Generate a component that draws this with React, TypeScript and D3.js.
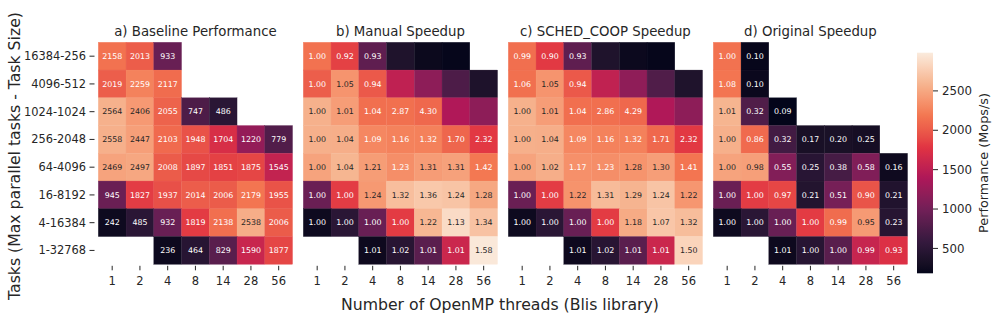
import React from "react";
import * as d3 from "d3";

const rowLabels = ["16384-256", "4096-512", "1024-1024", "256-2048", "64-4096", "16-8192", "4-16384", "1-32768"];
const threadLabels = ["1", "2", "4", "8", "14", "28", "56"];

const baseline: (number | null)[][] = [
  [2158, 2013, 933, null, null, null, null],
  [2019, 2259, 2117, null, null, null, null],
  [2564, 2406, 2055, 747, 486, null, null],
  [2558, 2447, 2103, 1948, 1704, 1220, 779],
  [2469, 2497, 2008, 1897, 1851, 1875, 1545],
  [945, 1827, 1937, 2014, 2006, 2179, 1955],
  [242, 485, 932, 1819, 2138, 2538, 2006],
  [null, null, 236, 464, 829, 1590, 1877],
];

const manualSpeedup: (number | null)[][] = [
  [1.0, 0.92, 0.93, null, null, null, null],
  [1.0, 1.05, 0.94, null, null, null, null],
  [1.0, 1.01, 1.04, 2.87, 4.3, null, null],
  [1.0, 1.04, 1.09, 1.16, 1.32, 1.7, 2.32],
  [1.0, 1.04, 1.21, 1.23, 1.31, 1.31, 1.42],
  [1.0, 1.0, 1.24, 1.32, 1.36, 1.24, 1.28],
  [1.0, 1.0, 1.0, 1.0, 1.22, 1.13, 1.34],
  [null, null, 1.01, 1.02, 1.01, 1.01, 1.58],
];

// performance of runs where no baseline exists (coloured, not annotated)
const manualOnlyPerf: (number | null)[][] = [
  [null, null, null, 390, 227, 199, null],
  [null, null, null, 1520, 1178, 751, 384],
  [null, null, null, null, null, 1404, 1178],
  [null, null, null, null, null, null, null],
  [null, null, null, null, null, null, null],
  [null, null, null, null, null, null, null],
  [null, null, null, null, null, null, null],
  [null, null, null, null, null, null, null],
];

const schedSpeedup: (number | null)[][] = [
  [0.99, 0.9, 0.93, null, null, null, null],
  [1.06, 1.05, 0.94, null, null, null, null],
  [1.0, 1.01, 1.04, 2.86, 4.29, null, null],
  [1.0, 1.04, 1.09, 1.16, 1.32, 1.71, 2.32],
  [1.0, 1.02, 1.17, 1.23, 1.28, 1.3, 1.41],
  [1.0, 1.0, 1.22, 1.31, 1.29, 1.24, 1.22],
  [1.0, 1.0, 1.0, 1.0, 1.18, 1.07, 1.32],
  [null, null, 1.01, 1.02, 1.01, 1.01, 1.5],
];

const schedOnlyPerf: (number | null)[][] = [
  [null, null, null, 395, 230, 199, null],
  [null, null, null, 1530, 1190, 770, 390],
  [null, null, null, null, null, 1404, 1178],
  [null, null, null, null, null, null, null],
  [null, null, null, null, null, null, null],
  [null, null, null, null, null, null, null],
  [null, null, null, null, null, null, null],
  [null, null, null, null, null, null, null],
];

const originalSpeedup: (number | null)[][] = [
  [1.0, 0.1, null, null, null, null, null],
  [1.08, 0.1, null, null, null, null, null],
  [1.01, 0.32, 0.09, null, null, null, null],
  [1.0, 0.86, 0.32, 0.17, 0.2, 0.25, null],
  [1.0, 0.98, 0.55, 0.25, 0.38, 0.58, 0.16],
  [1.0, 1.0, 0.97, 0.21, 0.51, 0.9, 0.21],
  [1.0, 1.0, 1.0, 1.0, 0.99, 0.95, 0.23],
  [null, null, 1.01, 1.0, 1.0, 0.99, 0.93],
];

const panelTitles = ["a) Baseline Performance", "b) Manual Speedup", "c) SCHED_COOP Speedup", "d) Original Speedup"];
const colorbarTicks = [500, 1000, 1500, 2000, 2500];

const VMIN = 184;
const VMAX = 2985;

const rocketStops = ["#03051a", "#35193e", "#701f57", "#ad1759", "#e13342", "#f37651", "#f6b48f", "#faebdd"];
const rocket = d3.piecewise(d3.interpolateLab, rocketStops);
const color = d3.scaleSequential(rocket).domain([VMIN, VMAX]).clamp(true);

function luminance(c: string) {
  const r = d3.rgb(c);
  const f = (v: number) => {
    const s = v / 255;
    return s <= 0.03928 ? s / 12.92 : Math.pow((s + 0.055) / 1.055, 2.4);
  };
  return 0.2126 * f(r.r) + 0.7152 * f(r.g) + 0.0722 * f(r.b);
}

type Cell = { r: number; c: number; perf: number; label: string | null };

function buildCells(kind: number): Cell[] {
  const out: Cell[] = [];
  rowLabels.forEach((_, r) => {
    threadLabels.forEach((_, c) => {
      const b = baseline[r][c];
      if (kind === 0) {
        if (b != null) out.push({ r, c, perf: b, label: String(b) });
        return;
      }
      const sp = kind === 1 ? manualSpeedup : kind === 2 ? schedSpeedup : originalSpeedup;
      const only = kind === 1 ? manualOnlyPerf : kind === 2 ? schedOnlyPerf : null;
      const s = sp[r][c];
      if (s != null && b != null) {
        out.push({ r, c, perf: s * b, label: s.toFixed(2) });
      } else if (only && only[r][c] != null) {
        out.push({ r, c, perf: only[r][c] as number, label: null });
      }
    });
  });
  return out;
}

const W = 997;
const H = 321;
const TOP = 42.3;
const CELL = 27.75;
const PANEL_W = CELL * 7;
const PANEL_H = CELL * 8;
const LEFT0 = 98.3;
const STEP = 205;
const FONT = "DejaVu Sans, sans-serif";
const TXT = "#262626";

const CB_X = 917;
const CB_W = 16;
const CB_TOP = 52.7;
const CB_BOT = 273.3;

export default function App() {
  const y = d3.scaleBand<string>().domain(rowLabels).range([TOP, TOP + PANEL_H]).padding(0);
  const cbY = d3.scaleLinear().domain([VMIN, VMAX]).range([CB_BOT, CB_TOP]);
  const gradStops = d3.range(0, 1.0001, 0.02);

  return (
    <svg width={W} height={H} style={{ position: "absolute", left: 0, top: 0, background: "#fff" }} fontFamily={FONT}>
      <defs>
        <linearGradient id="cbgrad" x1="0" y1="1" x2="0" y2="0">
          {gradStops.map((t) => (
            <stop key={t} offset={`${t * 100}%`} stopColor={rocket(t)} />
          ))}
        </linearGradient>
      </defs>
      {panelTitles.map((title, p) => {
        const left = LEFT0 + p * STEP;
        const x = d3.scaleBand<string>().domain(threadLabels).range([left, left + PANEL_W]).padding(0);
        const cells = buildCells(p);
        return (
          <g key={p}>
            <text x={left + PANEL_W / 2} y={35.5} textAnchor="middle" fontSize={13.3} fill={TXT}>
              {title}
            </text>
            {cells.map((d) => {
              const fill = color(d.perf);
              return (
                <rect
                  key={`r${d.r}-${d.c}`}
                  x={x(threadLabels[d.c])}
                  y={y(rowLabels[d.r])}
                  width={x.bandwidth()}
                  height={y.bandwidth()}
                  fill={fill}
                  stroke={fill}
                  strokeWidth={0.3}
                />
              );
            })}
            {cells
              .filter((d) => d.label != null)
              .map((d) => {
                const fill = color(d.perf);
                const tc = luminance(fill) > 0.408 ? TXT : "#ffffff";
                return (
                  <text
                    key={`t${d.r}-${d.c}`}
                    x={(x(threadLabels[d.c]) as number) + x.bandwidth() / 2}
                    y={(y(rowLabels[d.r]) as number) + y.bandwidth() / 2 + 2.8}
                    textAnchor="middle"
                    fontSize={7.9}
                    fill={tc}
                  >
                    {d.label}
                  </text>
                );
              })}
            {threadLabels.map((t) => {
              const cx = (x(t) as number) + x.bandwidth() / 2;
              return (
                <g key={`xt${t}`}>
                  <line x1={cx} x2={cx} y1={TOP + PANEL_H + 1.5} y2={TOP + PANEL_H + 6} stroke={TXT} strokeWidth={1} />
                  <text x={cx} y={284.5} textAnchor="middle" fontSize={11.5} fill={TXT}>
                    {t}
                  </text>
                </g>
              );
            })}
            {p === 0 &&
              rowLabels.map((r) => {
                const cy = (y(r) as number) + y.bandwidth() / 2;
                return (
                  <g key={`yt${r}`}>
                    <line x1={89.5} x2={94.5} y1={cy} y2={cy} stroke={TXT} strokeWidth={1} />
                    <text x={86} y={cy + 4} textAnchor="end" fontSize={11.4} fill={TXT}>
                      {r}
                    </text>
                  </g>
                );
              })}
          </g>
        );
      })}
      <text x={500} y={309.5} textAnchor="middle" fontSize={15.7} fill={TXT}>
        Number of OpenMP threads (Blis library)
      </text>
      <text transform={`translate(19.5,156) rotate(-90)`} textAnchor="middle" fontSize={15.7} fill={TXT}>
        Tasks (Max parallel tasks - Task Size)
      </text>
      <rect x={CB_X} y={CB_TOP} width={CB_W} height={CB_BOT - CB_TOP} fill="url(#cbgrad)" />
      {colorbarTicks.map((t) => (
        <g key={`cb${t}`}>
          <line x1={CB_X + CB_W} x2={CB_X + CB_W + 5} y1={cbY(t)} y2={cbY(t)} stroke={TXT} strokeWidth={1} />
          <text x={CB_X + CB_W + 9} y={cbY(t) + 4.2} fontSize={11.8} fill={TXT}>
            {t}
          </text>
        </g>
      ))}
      <text transform={`translate(987.5,163) rotate(-90)`} textAnchor="middle" fontSize={12.8} fill={TXT}>
        Performance (Mops/s)
      </text>
    </svg>
  );
}
